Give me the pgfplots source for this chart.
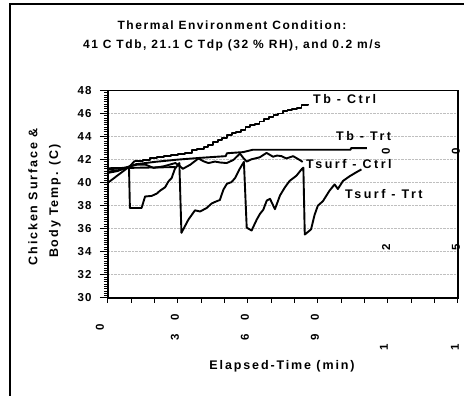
\documentclass[border=0pt]{standalone}
\usepackage{fontspec}
\setmainfont{Liberation Sans}
\newfontfamily\fA{Liberation Sans}[LetterSpace=10]
\newfontfamily\fT{Liberation Sans}[LetterSpace=13]
\newfontfamily\fB{Liberation Sans}[LetterSpace=15]
\newfontfamily\fC{Liberation Sans}[LetterSpace=20]
\usepackage{pgfplots}
\pgfplotsset{compat=1.18}
\newcommand{\tickf}{\fA\bfseries\fontsize{11.5}{13}\selectfont}
\newcommand{\labf}{\fB\bfseries\fontsize{12.5}{14}\selectfont}
\newcommand{\serf}{\fC\bfseries\fontsize{12.5}{14}\selectfont}
\newcommand{\titf}{\fT\bfseries\fontsize{12}{14}\selectfont}
\begin{document}
\begin{tikzpicture}
\useasboundingbox (0pt,0pt) rectangle (464pt,396pt);
\draw[line width=1.5pt] (10pt,-2pt) -- (10pt,392pt) -- (466pt,392pt);
\begin{axis}[
  at={(108pt,98pt)}, anchor=south west,
  scale only axis, width=349.7pt, height=207.6pt,
  xmin=0, xmax=150, ymin=30, ymax=48,
  xtick={0,10,...,150}, xticklabels={},
  ytick={30,32,...,48},
  minor y tick num=9,
  tick align=outside, tick pos=left,
  major tick length=8pt, minor tick length=4pt,
  xtick style={/pgfplots/major tick length=5pt},
  tick style={black, line width=1pt},
  axis line style={line width=1.6pt},
  ymajorgrids,
  grid style={densely dotted, gray!50, line width=0.9pt},
  yticklabel style={font=\tickf, xshift=-5pt},
  /pgf/number format/assume math mode=true,
  ser/.style={black, line width=1.9pt, mark=none, line join=round},
]
% Tb - Ctrl
\addplot[ser] coordinates {(0,40.0) (9.5,41.45) (11.5,41.9)};
\addplot[ser, const plot] coordinates {
(11.5,41.9) (15,42.0) (18,42.1) (21,42.2) (24,42.3) (27,42.4) (30,42.5)
(33,42.6) (36,42.8) (38,42.9) (41,43.1) (43,43.3) (45,43.5) (47,43.7)
(49,43.9) (51,44.1) (53,44.3) (55,44.4) (57,44.6) (59,44.8) (61,45.0)
(63,45.1) (65,45.3) (67,45.5) (69,45.7) (71,45.9) (73,46.0) (75,46.2)
(77,46.3) (79,46.4) (81,46.5) (83,46.7) (85.9,46.85)};
% Tb - Trt
\addplot[ser] coordinates {
(0,40.95) (5,41.1) (9.4,41.4) (12,41.6) (20,41.8) (30,42.0) (39.5,42.15)
(50.5,42.3) (51,42.55) (58,42.65) (60,42.75) (62,42.85) (104,42.85)
(104.3,43.0) (111,43.0)};
% extra flat line
\addplot[ser] coordinates {(0,41.25) (29,41.35)};
% Tsurf - Ctrl
\addplot[ser] coordinates {
(0,40.85) (4,41.0) (9,41.4) (12.5,41.56) (16.1,41.56) (19.6,41.28)
(23.9,41.42) (28.9,41.7) (30.5,41.5) (32.1,41.2) (35.3,41.56) (38.8,42.1)
(41,41.85) (43.1,41.7) (45.9,41.83) (48,41.75) (50.9,41.7) (53.8,41.97)
(56.6,42.53) (58.2,42.1) (59.5,41.83) (61.6,42.03) (65.1,42.2) (68,42.58)
(70.8,42.25) (72.5,42.35) (74.4,42.3) (76.5,42.1) (79.4,42.3) (82.2,41.97)
(83.5,41.8)};
% Tsurf - Trt
\addplot[ser] coordinates {
(0,41.15) (5,41.25) (9,41.35) (9.4,37.8) (14.4,37.8) (15.9,38.8) (18.7,38.85)
(20.9,39.05) (22.3,39.3) (24.5,39.6) (25.9,40.1) (27.3,40.4) (28.7,41.2)
(30.6,41.7) (31.5,35.65) (34.5,36.8) (37.3,37.6) (39.5,37.5) (42.3,37.8)
(44.5,38.2) (45.9,38.33) (48,38.5) (49.5,39.4) (51,39.9) (53,40.05)
(54.5,40.4) (56.5,41.2) (58.3,41.8) (59.5,36.1) (61.6,35.85) (63.8,36.8)
(65.2,37.3) (66.6,37.65) (68.1,38.45) (69.5,38.6) (71.6,37.7) (73.8,38.9)
(75.9,39.6) (77.9,40.15) (80.8,40.6) (83.2,41.2) (83.8,41.3) (84.4,35.5)
(87.1,35.95) (88.6,37.2) (90,38.0) (92.2,38.4) (95,39.3) (97.2,39.85)
(98.6,39.45) (100.8,40.15) (103.6,40.55) (106.5,40.9) (108.7,41.15)};
\end{axis}
% titles
\node[font=\titf] at (232pt,371pt) {Thermal Environment Condition:};
\node[font=\titf] at (232pt,351pt) {41 C Tdb, 21.1 C Tdp (32 \% RH), and 0.2 m/s};
\node[font=\labf, rotate=90] at (33pt,199pt) {Chicken Surface \&};
\node[font=\labf, rotate=90] at (55pt,195pt) {Body Temp. (C)};
\node[font=\labf] at (282pt,30pt) {Elapsed-Time (min)};
% series labels
\node[font=\serf, anchor=west, inner sep=0] at (313pt,297pt) {Tb - Ctrl};
\node[font=\serf, anchor=west, inner sep=0] at (336pt,260pt) {Tb - Trt};
\node[font=\serf, anchor=west, inner sep=0] at (306pt,232pt) {Tsurf - Ctrl};
\node[font=\serf, anchor=west, inner sep=0] at (345pt,202pt) {Tsurf - Trt};
% x tick labels (rotated, broken apart as in the original)
\begin{scope}[every node/.style={font=\tickf, rotate=90, inner sep=0}]
\node at (100pt,69pt) {0};
\node at (175pt,59pt) {3}; \node at (175pt,79pt) {0};
\node at (245pt,59pt) {6}; \node at (245pt,79pt) {0};
\node at (315pt,59pt) {9}; \node at (315pt,79pt) {0};
\node at (384pt,49pt) {1}; \node at (386pt,149pt) {2}; \node at (386pt,245pt) {0};
\node at (455pt,49pt) {1}; \node at (456pt,149pt) {5}; \node at (456pt,245pt) {0};
\end{scope}
\end{tikzpicture}
\end{document}
